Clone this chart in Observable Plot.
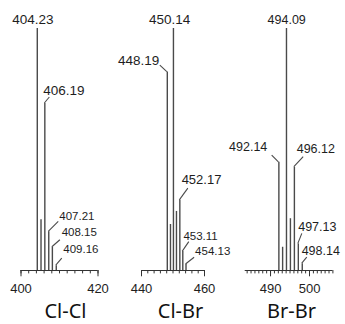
<!DOCTYPE html>
<html><head><meta charset="utf-8">
<script src="https://cdn.jsdelivr.net/npm/d3@7"></script>
<script src="https://cdn.jsdelivr.net/npm/@observablehq/plot@0.6"></script>
<style>
body{margin:0;background:#fff}
#chart{position:relative;width:345px;height:324px;overflow:hidden;background:#fff}
#chart .panel{position:absolute;top:0;overflow:visible}
</style></head><body><div id="chart"></div>
<script>
// ---- Cl-Cl ----
const clclTitle = "Cl-Cl";
const clclMz = [404.23, 405.2, 406.19, 407.21, 408.15, 409.16];
const clclInt = [100, 21, 69, 16, 9.6, 2];
const clclLabel = ["404.23", "", "406.19", "407.21", "408.15", "409.16"];
const clclTicks = [400, 402, 404, 406, 408, 410, 412, 414, 416, 418, 420];
const clclMajor = [400, 420];
const clclTickLabels = ["400", "420"];

// ---- Cl-Br ----
const clbrTitle = "Cl-Br";
const clbrMz = [448.19, 449.2, 450.14, 451.1, 452.17, 453.11, 454.13];
const clbrInt = [82, 19, 100, 24.4, 29, 7.8, 2.5];
const clbrLabel = ["448.19", "", "450.14", "", "452.17", "453.11", "454.13"];
const clbrTicks = [440, 442, 444, 446, 448, 450, 452, 454, 456, 458, 460];
const clbrMajor = [440, 460];
const clbrTickLabels = ["440", "460"];

// ---- Br-Br ----
const brbrTitle = "Br-Br";
const brbrMz = [492.14, 493.1, 494.09, 495.1, 496.12, 497.13, 498.14];
const brbrInt = [44.7, 9.6, 100, 21.4, 42.7, 11, 2.8];
const brbrLabel = ["492.14", "", "494.09", "", "496.12", "497.13", "498.14"];
const brbrTicks = [484, 485, 486, 487, 488, 489, 490, 491, 492, 493, 494, 495, 496, 497, 498, 499, 500, 501, 502, 503, 504, 505, 506];
const brbrMajor = [490, 500];
const brbrTickLabels = ["490", "500"];

// ---- layout (leader dx, leader dy, text dx, text dy, anchor, font size) ----
const clclLayout = [[0,0,-4,-8.5,"middle",13.5], null, [5,-6,-6,-6.5,"start",13.5], [10,-10,1,-5.3,"start",11.5], [8,-7,1.8,-7.8,"start",11.5], [6,-7,1.5,-9.2,"start",11.5]];
const clbrLayout = [[-7,-6.5,-0.6,-5,"end",13.5], null, [0,0,-3.3,-9,"middle",13.5], null, [8.5,-11.7,-6.2,-8.3,"start",13], [6.5,-9.5,-5.4,-5.5,"start",11.5], [8.6,-6.7,1,-6.3,"start",11.5]];
const brbrLayout = [[-6.7,-6.7,-4.4,-9,"end",12.5], null, [0,0,0.7,-8,"middle",12.5], null, [9.3,-10,-6.5,-7.7,"start",12.5], [4,-10,-3.6,-6.3,"start",12.5], [5,-6,-5.1,-6.3,"start",12.5]];

const panels = [
  {title: clclTitle, mz: clclMz, int: clclInt, label: clclLabel, layout: clclLayout, ticks: clclTicks, major: clclMajor, tickLabels: clclTickLabels, left: 0, domain: [400, 420], ml: 20.5, mr: 17.5, titleDx: 6},
  {title: clbrTitle, mz: clbrMz, int: clbrInt, label: clbrLabel, layout: clbrLayout, ticks: clbrTicks, major: clbrMajor, tickLabels: clbrTickLabels, left: 115, domain: [440, 460], ml: 26, mr: 26, titleDx: 7.5},
  {title: brbrTitle, mz: brbrMz, int: brbrInt, label: brbrLabel, layout: brbrLayout, ticks: brbrTicks, major: brbrMajor, tickLabels: brbrTickLabels, left: 230, domain: [483.5, 506], ml: 14.7, mr: 12.6, titleDx: 2.5}
];

const ink = "#4a4a4a";
const textInk = "#1e1e1e";

function labelMark(rows) {
  return (index, scales) => {
    const g = d3.create("svg:g").attr("font-family", "'Liberation Sans', Arial, sans-serif").attr("fill", textInk);
    for (const r of rows) {
      const px = scales.x(r.mz), py = scales.y(r.int);
      const [lx, ly, tx, ty, anchor, size] = r.layout;
      const ex = px + lx, ey = py + ly;
      if (lx || ly) {
        g.append("line").attr("x1", px).attr("y1", py).attr("x2", ex).attr("y2", ey)
          .attr("stroke", ink).attr("stroke-width", 1.1);
      }
      g.append("text").attr("x", ex + tx).attr("y", ey + ty).attr("dy", "0.35em")
        .attr("text-anchor", anchor).attr("font-size", size).text(r.label);
    }
    return g.node();
  };
}

const root = document.getElementById("chart");
panels.forEach((p) => {
  const peaks = p.mz.map((m, i) => ({mz: m, int: p.int[i], label: p.label[i], layout: p.layout[i]}));
  const labelled = peaks.filter(d => d.label);
  const fig = Plot.plot({
    width: 115,
    height: 324,
    marginTop: 28,
    marginBottom: 54,
    marginLeft: p.ml,
    marginRight: p.mr,
    style: {background: "transparent", fontFamily: "'Liberation Sans', Arial, sans-serif", overflow: "visible"},
    x: {domain: p.domain, axis: null},
    y: {domain: [0, 100], axis: null},
    marks: [
      Plot.ruleX(peaks, {x: "mz", y1: 0, y2: "int", stroke: ink, strokeWidth: 1.4}),
      Plot.ruleY([{y: 0, a: p.domain[0], b: p.domain[1]}], {y: "y", x1: "a", x2: "b", stroke: "#333", strokeWidth: 1.2}),
      Plot.ruleX(p.ticks, {x: d => d, y1: 0, y2: -1.4, stroke: "#333", strokeWidth: 1}),
      Plot.ruleX(p.major, {x: d => d, y1: 0, y2: -2.6, stroke: "#333", strokeWidth: 1}),
      Plot.text(p.major, {x: d => d, y: 0, text: (d, i) => p.tickLabels[i], dy: 18, fontSize: 13, fill: textInk}),
      labelMark(labelled),
      Plot.text([p.title], {frameAnchor: "bottom", lineAnchor: "middle", dx: p.titleDx, dy: 41, fontSize: 20, fontFamily: "'Noto Sans', sans-serif", fill: "#111"})
    ]
  });
  const wrap = document.createElement("div");
  wrap.className = "panel";
  wrap.style.left = p.left + "px";
  wrap.style.width = "115px";
  wrap.style.height = "324px";
  wrap.appendChild(fig);
  root.appendChild(wrap);
});
</script>
</body></html>
